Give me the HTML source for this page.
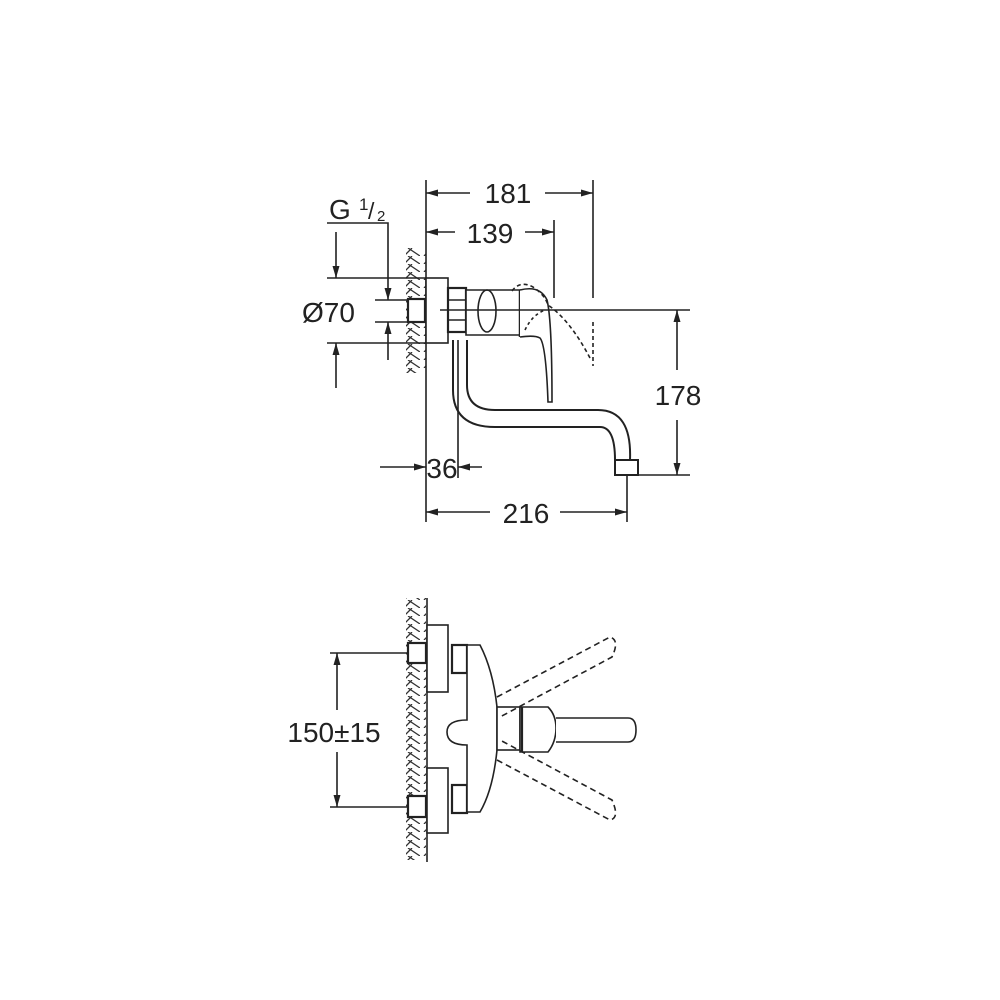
<!DOCTYPE html>
<html><head><meta charset="utf-8"><style>
html,body{margin:0;padding:0;background:#fff;}
svg{display:block}
text{font-family:"Liberation Sans",sans-serif;fill:#222;}
</style></head><body>
<svg width="1000" height="1000" viewBox="0 0 1000 1000" xmlns="http://www.w3.org/2000/svg">
<defs>
<marker id="a" viewBox="0 0 12 10" refX="12" refY="5" markerWidth="13" markerHeight="10" markerUnits="userSpaceOnUse" orient="auto-start-reverse"><path d="M0,1.5 L12,5 L0,8.5z" fill="#222"/></marker>
<pattern id="h" width="20" height="8" patternUnits="userSpaceOnUse"><path d="M4,8 L12,0 M8,0 L20,8" stroke="#333" stroke-width="1.3" fill="none"/></pattern>
</defs>
<g stroke="#222" stroke-width="1.6" fill="none">
<!-- TOP VIEW -->
<rect x="406" y="248" width="20" height="125" fill="url(#h)" stroke="none"/>
<line x1="426" y1="180" x2="426" y2="522"/>
<line x1="593" y1="180" x2="593" y2="298"/>
<line x1="593" y1="322" x2="593" y2="366" stroke-dasharray="4,3"/>
<line x1="426" y1="193" x2="470" y2="193" marker-start="url(#a)"/>
<line x1="545" y1="193" x2="593" y2="193" marker-end="url(#a)"/>
<line x1="554" y1="220" x2="554" y2="298"/>
<line x1="426" y1="232" x2="455" y2="232" marker-start="url(#a)"/>
<line x1="525" y1="232" x2="554" y2="232" marker-end="url(#a)"/>
<polyline points="327,223 388,223 388,300" marker-end="url(#a)"/>
<line x1="388" y1="360" x2="388" y2="322" marker-end="url(#a)"/>
<line x1="375" y1="300" x2="410" y2="300"/>
<line x1="375" y1="322" x2="410" y2="322"/>
<line x1="327" y1="278" x2="426" y2="278"/>
<line x1="327" y1="343" x2="426" y2="343"/>
<line x1="336" y1="232" x2="336" y2="278" marker-end="url(#a)"/>
<line x1="336" y1="388" x2="336" y2="343" marker-end="url(#a)"/>
<rect x="426" y="278" width="22" height="65" fill="#fff"/>
<rect x="408" y="299" width="17" height="23" fill="#fff" stroke-width="2.2"/>
<rect x="448" y="288" width="18" height="44" fill="#fff" stroke-width="2.2"/>
<line x1="448" y1="300" x2="466" y2="300"/><line x1="448" y1="320" x2="466" y2="320"/>
<path d="M466,290 L520,290 L520,335 L466,335 Z" fill="#fff"/>
<ellipse cx="487" cy="311" rx="9" ry="21"/>
<path d="M520,290 L520,337" stroke-width="2.5"/>
<path d="M520,290 Q540,285 547,300 Q552,320 552,402 L548,402 Q546,345 540,338 Q535,335 520,337" fill="#fff"/>
<path d="M512,291 Q520,280 533,287 Q545,295 548,305 Q570,320 590,358" stroke-dasharray="4,3"/>
<path d="M525,330 Q532,315 545,310" stroke-dasharray="3,3"/>
<line x1="440" y1="310" x2="690" y2="310"/>
<line x1="630" y1="475" x2="690" y2="475"/>
<line x1="677" y1="370" x2="677" y2="310" marker-end="url(#a)"/>
<line x1="677" y1="420" x2="677" y2="475" marker-end="url(#a)"/>
<path d="M453,340 L453,390 Q453,427 495,427 L600,427 Q615,427 615,460" stroke-width="2"/>
<path d="M467,340 L467,385 Q467,410 495,410 L598,410 Q632,410 630,460" stroke-width="2"/>
<rect x="615" y="460" width="23" height="15" fill="#fff" stroke-width="2"/>
<line x1="458" y1="340" x2="458" y2="478"/>
<line x1="380" y1="467" x2="426" y2="467" marker-end="url(#a)"/>
<line x1="482" y1="467" x2="458" y2="467" marker-end="url(#a)"/>
<line x1="627" y1="475" x2="627" y2="522"/>
<line x1="426" y1="512" x2="490" y2="512" marker-start="url(#a)"/>
<line x1="560" y1="512" x2="627" y2="512" marker-end="url(#a)"/>

<!-- BOTTOM VIEW -->
<rect x="406" y="598" width="20" height="262" fill="url(#h)" stroke="none"/>
<line x1="427" y1="598" x2="427" y2="862"/>
<rect x="427" y="625" width="21" height="67" fill="#fff"/>
<rect x="427" y="768" width="21" height="65" fill="#fff"/>
<rect x="408" y="643" width="18" height="20" fill="#fff" stroke-width="2.2"/>
<rect x="408" y="796" width="18" height="21" fill="#fff" stroke-width="2.2"/>
<rect x="452" y="645" width="15" height="28" fill="#fff" stroke-width="2.2"/>
<rect x="452" y="785" width="15" height="28" fill="#fff" stroke-width="2.2"/>
<path d="M467,645 L480,645 Q493,670 497,707 L497,750 Q493,790 480,812 L467,812 L467,745 Q447,745 447,732 Q447,720 467,720 Z" fill="#fff"/>
<rect x="497" y="707" width="23" height="43" fill="#fff"/>
<path d="M520,707 L548,707 Q556,715 556,728 Q556,742 548,752 L520,752 Z" fill="#fff"/>
<line x1="522" y1="707" x2="522" y2="752" stroke-width="2.2"/>
<path d="M556,718 L628,718 Q636,718 636,730 Q636,742 628,742 L556,742" fill="#fff"/>
<path d="M497,697 L610,637 Q620,640 612,657 L500,717" stroke-dasharray="6,4"/>
<path d="M497,760 L610,820 Q620,818 612,800 L500,740" stroke-dasharray="6,4"/>
<line x1="330" y1="653" x2="408" y2="653"/>
<line x1="330" y1="807" x2="408" y2="807"/>
<line x1="337" y1="710" x2="337" y2="653" marker-end="url(#a)"/>
<line x1="337" y1="752" x2="337" y2="807" marker-end="url(#a)"/>
</g>
<g font-size="28">
<text x="508" y="203" text-anchor="middle">181</text>
<text x="490" y="243" text-anchor="middle">139</text>
<text x="329" y="219">G</text>
<text x="359" y="210" font-size="17">1</text>
<text x="368" y="219" font-size="23">/</text>
<text x="377" y="221" font-size="15">2</text>
<text x="302" y="322">Ø70</text>
<text x="678" y="405" text-anchor="middle">178</text>
<text x="442" y="478" text-anchor="middle">36</text>
<text x="526" y="523" text-anchor="middle">216</text>
<text x="334" y="742" text-anchor="middle">150±15</text>
</g>
</svg>
</body></html>
